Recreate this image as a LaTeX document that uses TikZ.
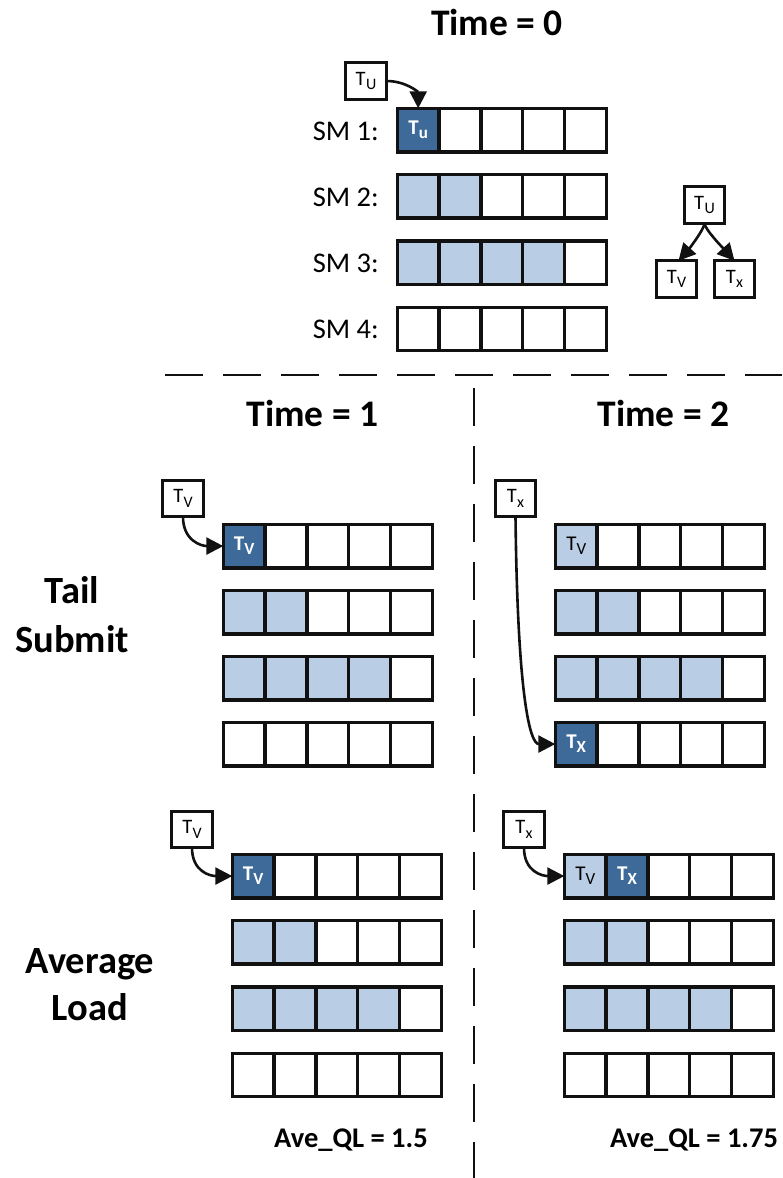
\documentclass[tikz,border=0pt]{standalone}
\usepackage{fontspec}
\setmainfont{Carlito}
\usetikzlibrary{arrows.meta}

\definecolor{qD}{HTML}{3D6A98}
\definecolor{qL}{HTML}{B9CDE5}
\definecolor{qW}{HTML}{FFFFFF}
\definecolor{qK}{HTML}{111111}

% task labels: in the small boxes, in dark cells, in light cells
\newcommand\Tbox[1]{{\fontsize{20.5}{20.5}\selectfont T\kern0.3pt\raisebox{-0.22em}{\fontsize{16}{16}\selectfont #1}}}
\newcommand\Tdk[1]{{\fontsize{21}{21}\selectfont\bfseries\color{white}T\raisebox{-0.2em}{\fontsize{17}{17}\selectfont #1}}}
\newcommand\Tlt[1]{{\fontsize{21}{21}\selectfont T\raisebox{-0.2em}{\fontsize{17}{17}\selectfont #1}}}

\def\cw{41.8}
% one SM queue of five slots: name, left x, top y, list of fill/label
\newcommand\qrow[4]{%
  \foreach \f/\lbl [count=\k] in {#4}{%
    \node[cell, fill=\f] (#1-\k) at ({#2+(\k-1)*\cw}, #3) {\lbl};
  }%
}

\begin{document}
\begin{tikzpicture}[x=1pt, y=-1pt,
  cell/.style={draw=qK, line width=3.4pt, minimum width=\cw pt, minimum height=43.5pt,
    inner sep=0pt, outer sep=0pt, anchor=north west},
  tbox/.style={draw=qK, line width=3pt, fill=white, minimum width=40.5pt,
    minimum height=36.5pt, inner sep=0pt, outer sep=0pt},
  conn/.style={-{Triangle[length=17pt,width=17pt]}, line width=2.6pt, draw=qK},
  divider/.style={draw=qK, line width=1.7pt, dash pattern=on 38pt off 20pt},
  title/.style={font=\fontsize{37.5}{37.5}\selectfont\bfseries, anchor=base, inner sep=0pt},
  side/.style={font=\fontsize{38.5}{38.5}\selectfont\bfseries, anchor=base, inner sep=0pt},
  smlabel/.style={font=\fontsize{28.5}{28.5}\selectfont, anchor=base east, inner sep=0pt},
  qlabel/.style={font=\fontsize{28.5}{28.5}\selectfont\bfseries, anchor=base, inner sep=0pt}]
\useasboundingbox (0,0) rectangle (782,1178);

% section dividers
\draw[divider] (165,375) -- (782,375);
\draw[divider] (474,388) -- (474,1178);

% ---------- Time = 0 ----------
\node[title] (t0) at (497,35) {Time = 0};
\qrow{a1}{397.3}{108.3}{qD/\Tdk{u}, qW/{}, qW/{}, qW/{}, qW/{}}
\qrow{a2}{397.3}{174.6}{qL/{}, qL/{}, qW/{}, qW/{}, qW/{}}
\qrow{a3}{397.3}{240.9}{qL/{}, qL/{}, qL/{}, qL/{}, qW/{}}
\qrow{a4}{397.3}{307.2}{qW/{}, qW/{}, qW/{}, qW/{}, qW/{}}
\node[smlabel] (s1) at (379,140) {SM 1:};
\node[smlabel] (s2) at (379,206) {SM 2:};
\node[smlabel] (s3) at (379,272) {SM 3:};
\node[smlabel] (s4) at (379,338) {SM 4:};
\node[tbox] (u0) at (366,81) {\Tbox{U}};
\draw[conn] (u0.east) .. controls +(20,0) and +(0,-16) .. (a1-1.north);

% task graph
\node[tbox] (u9) at (704.5,205) {\Tbox{U}};
\node[tbox] (v9) at (676.5,279) {\Tbox{V}};
\node[tbox] (x9) at (734.5,279) {\Tbox{x}};
\draw[conn] (u9.south) .. controls +(0,6) and +(9,-10) .. ([xshift=2pt]v9.north);
\draw[conn] (u9.south) .. controls +(0,6) and +(-9,-10) .. (x9.north);

% ---------- Time = 1 / Time = 2 ----------
\node[title] (t1) at (312.5,426) {Time = 1};
\node[title] (t2) at (663.5,426) {Time = 2};

% tail submit
\node[side] (tail) at (72,603) {Tail};
\node[side] (submit) at (72,652) {Submit};
\qrow{b1}{223.3}{524.3}{qD/\Tdk{V}, qW/{}, qW/{}, qW/{}, qW/{}}
\qrow{b2}{223.3}{590.3}{qL/{}, qL/{}, qW/{}, qW/{}, qW/{}}
\qrow{b3}{223.3}{656.3}{qL/{}, qL/{}, qL/{}, qL/{}, qW/{}}
\qrow{b4}{223.3}{722.3}{qW/{}, qW/{}, qW/{}, qW/{}, qW/{}}
\node[tbox] (v1) at (183,498.5) {\Tbox{V}};
\draw[conn] (v1.south) .. controls +(0,24) and +(-22,0) .. (b1-1.west);

\qrow{c1}{555.3}{524.3}{qL/\Tlt{V}, qW/{}, qW/{}, qW/{}, qW/{}}
\qrow{c2}{555.3}{590.3}{qL/{}, qL/{}, qW/{}, qW/{}, qW/{}}
\qrow{c3}{555.3}{656.3}{qL/{}, qL/{}, qL/{}, qL/{}, qW/{}}
\qrow{c4}{555.3}{722.3}{qD/\Tdk{X}, qW/{}, qW/{}, qW/{}, qW/{}}
\node[tbox] (x2) at (515.5,498.5) {\Tbox{x}};
\draw[conn] (x2.south) .. controls +(2,175) and +(-26,0) .. (c4-1.west);

% average load
\node[side] (avg) at (90,973) {Average};
\node[side] (load) at (90,1020) {Load};
\qrow{d1}{232.3}{854.3}{qD/\Tdk{V}, qW/{}, qW/{}, qW/{}, qW/{}}
\qrow{d2}{232.3}{920.6}{qL/{}, qL/{}, qW/{}, qW/{}, qW/{}}
\qrow{d3}{232.3}{986.9}{qL/{}, qL/{}, qL/{}, qL/{}, qW/{}}
\qrow{d4}{232.3}{1053.2}{qW/{}, qW/{}, qW/{}, qW/{}, qW/{}}
\node[tbox] (v3) at (192,829.5) {\Tbox{V}};
\draw[conn] (v3.south) .. controls +(0,24) and +(-22,0) .. (d1-1.west);
\node[qlabel] (q1) at (351,1147) {Ave\_QL = 1.5};

\qrow{e1}{564.3}{854.3}{qL/\Tlt{V}, qD/\Tdk{X}, qW/{}, qW/{}, qW/{}}
\qrow{e2}{564.3}{920.6}{qL/{}, qL/{}, qW/{}, qW/{}, qW/{}}
\qrow{e3}{564.3}{986.9}{qL/{}, qL/{}, qL/{}, qL/{}, qW/{}}
\qrow{e4}{564.3}{1053.2}{qW/{}, qW/{}, qW/{}, qW/{}, qW/{}}
\node[tbox] (x3) at (524,829.5) {\Tbox{x}};
\draw[conn] (x3.south) .. controls +(0,24) and +(-22,0) .. (e1-1.west);
\node[qlabel] (q2) at (694,1147) {Ave\_QL = 1.75};
\end{tikzpicture}
\end{document}
